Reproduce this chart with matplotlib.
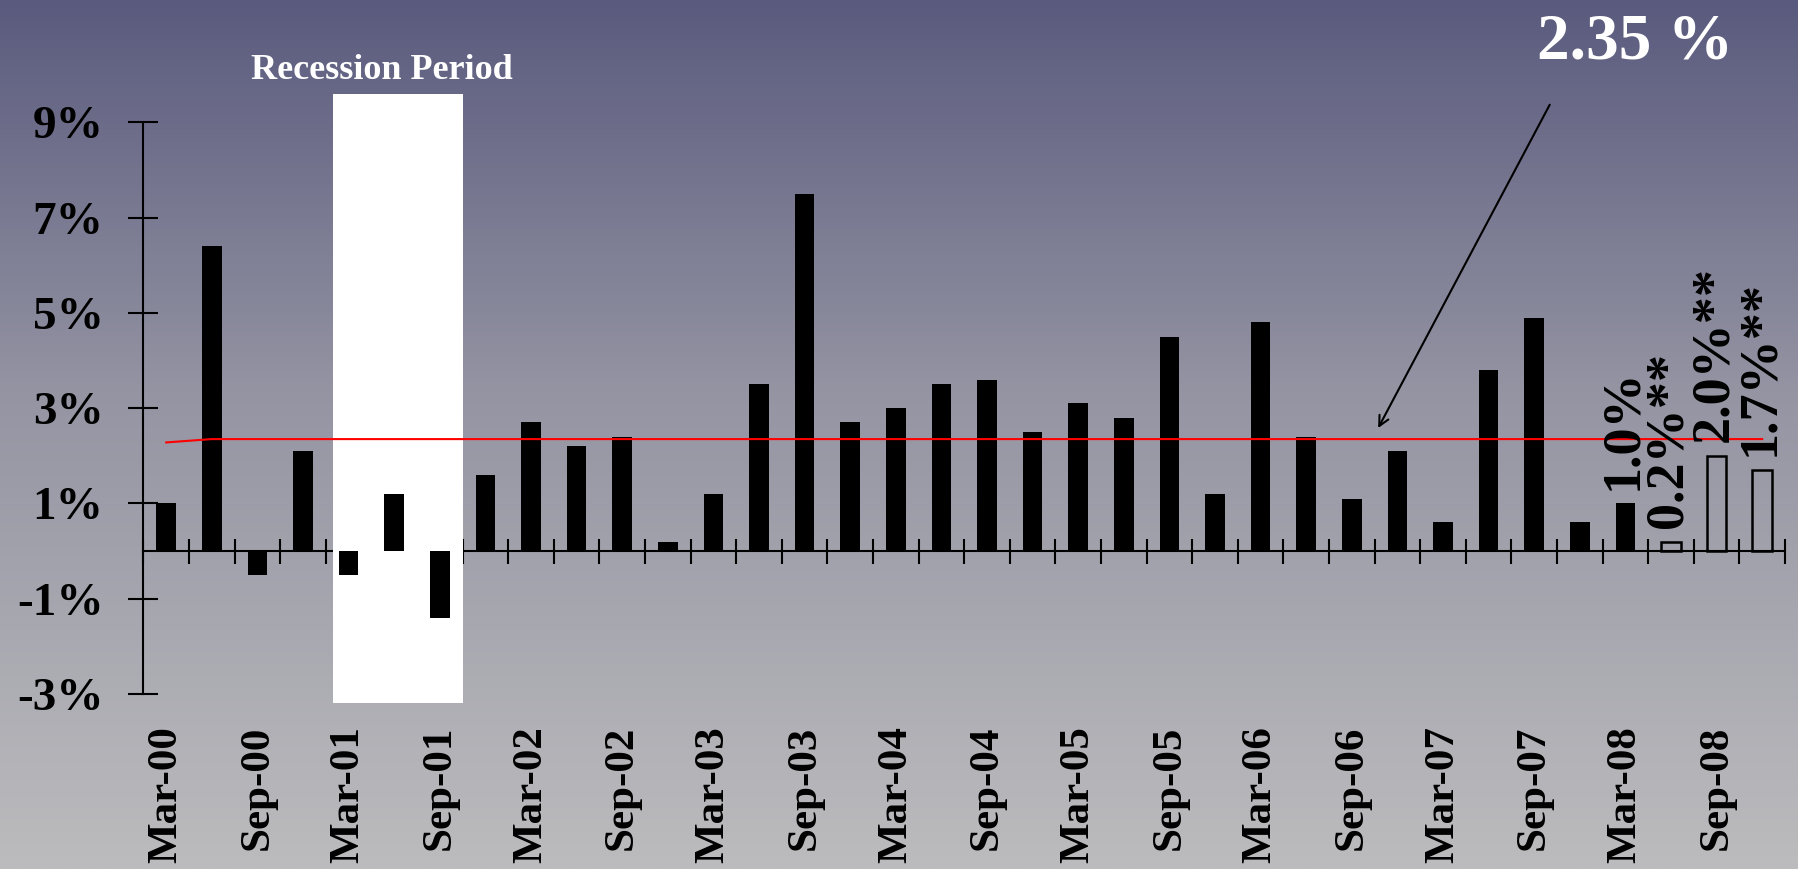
import numpy as np
import matplotlib
matplotlib.use("Agg")
import matplotlib.pyplot as plt
from matplotlib.patches import Rectangle

# quarterly growth, Mar-00 .. Dec-08
quarters = ["Mar-00", "Jun-00", "Sep-00", "Dec-00",
            "Mar-01", "Jun-01", "Sep-01", "Dec-01",
            "Mar-02", "Jun-02", "Sep-02", "Dec-02",
            "Mar-03", "Jun-03", "Sep-03", "Dec-03",
            "Mar-04", "Jun-04", "Sep-04", "Dec-04",
            "Mar-05", "Jun-05", "Sep-05", "Dec-05",
            "Mar-06", "Jun-06", "Sep-06", "Dec-06",
            "Mar-07", "Jun-07", "Sep-07", "Dec-07",
            "Mar-08", "Jun-08", "Sep-08", "Dec-08"]
growth = [1.0, 6.4, -0.5, 2.1,
          -0.5, 1.2, -1.4, 1.6,
          2.7, 2.2, 2.4, 0.2,
          1.2, 3.5, 7.5, 2.7,
          3.0, 3.5, 3.6, 2.5,
          3.1, 2.8, 4.5, 1.2,
          4.8, 2.4, 1.1, 2.1,
          0.6, 3.8, 4.9, 0.6,
          1.0, 0.2, 2.0, 1.7]
n_actual = 33  # last three quarters are estimates (hollow bars)
average = [2.28] + [2.35] * 35
bar_labels = {32: "1.0%", 33: "0.2%**", 34: "2.0%**", 35: "1.7%**"}
ytick_vals = [-3, -1, 1, 3, 5, 7, 9]
recession = (4.15, 7.0)

serif = "Liberation Serif"

fig = plt.figure(figsize=(17.99, 8.69), dpi=100)

# gradient background
bg = fig.add_axes([0, 0, 1, 1], zorder=0)
stops_y = [0.0, 0.45, 1.0]
stops_c = np.array([[90, 90, 126], [148, 148, 163], [188, 188, 190]]) / 255.0
yy = np.linspace(0, 1, 400)
grad = np.stack([np.interp(yy, stops_y, stops_c[:, k]) for k in range(3)], axis=1)
bg.imshow(grad[:, None, :], aspect="auto", extent=[0, 1, 1, 0])
bg.set_axis_off()

ax = fig.add_axes([0.0797, 0.2014, 0.9125, 0.6579], zorder=1)
ax.set_facecolor("none")

x = np.arange(len(growth)) + 0.5
ax.bar(x[:n_actual], growth[:n_actual], width=0.43, color="black", zorder=3)
ax.bar(x[n_actual:], growth[n_actual:], width=0.43, facecolor="none",
       edgecolor="black", linewidth=1.8, zorder=3)

# recession shading
ax.add_patch(Rectangle((recession[0], -3.18), recession[1] - recession[0], 12.77,
                       facecolor="white", edgecolor="none", zorder=1, clip_on=False))
ax.text(5.23, 9.9, "Recession Period", color="white", fontsize=26,
        fontweight="bold", family=serif, ha="center", va="baseline")

# average line
ax.plot(x, average, color="red", linewidth=1.5, zorder=4)
ax.text(32.72, 10.33, "2.35 %", color="white", fontsize=47, fontweight="bold",
        family=serif, ha="center", va="baseline", clip_on=False)
ax.annotate("", xy=(27.05, 2.53), xytext=(30.87, 9.42),
            arrowprops=dict(arrowstyle="->", color="black", lw=1.5,
                            mutation_scale=18),
            annotation_clip=False, zorder=5)

for i, lab in bar_labels.items():
    ax.annotate(lab, (x[i] - 0.05, growth[i]), xytext=(0, 10),
                textcoords="offset points", rotation=90, ha="center",
                va="bottom", fontsize=39, fontweight="bold", family=serif,
                zorder=5, annotation_clip=False)

ax.set_xlim(0, 36)
ax.set_ylim(-3, 9)
for s in ["top", "right", "bottom"]:
    ax.spines[s].set_visible(False)
ax.spines["left"].set_linewidth(1.5)

ax.set_yticks(ytick_vals)
ax.set_yticklabels([f"{v}%" for v in ytick_vals], fontsize=34,
                   fontweight="bold", family=serif)
ax.tick_params(axis="y", direction="inout", length=21.6, width=1.5, pad=18)

ax.set_xticks(x[::2])
ax.set_xticklabels(quarters[::2], rotation=90, fontsize=31, fontweight="bold",
                   family=serif, va="top")
ax.tick_params(axis="x", length=0, pad=23)

# zero line with ticks between quarters
zero = ax.secondary_xaxis(0.25)
zero.set_xticks(np.arange(37))
zero.set_xticklabels([])
zero.spines["bottom"].set_linewidth(1.5)
zero.tick_params(direction="inout", length=18, width=1.5)

fig.savefig("out.png", dpi=100)
